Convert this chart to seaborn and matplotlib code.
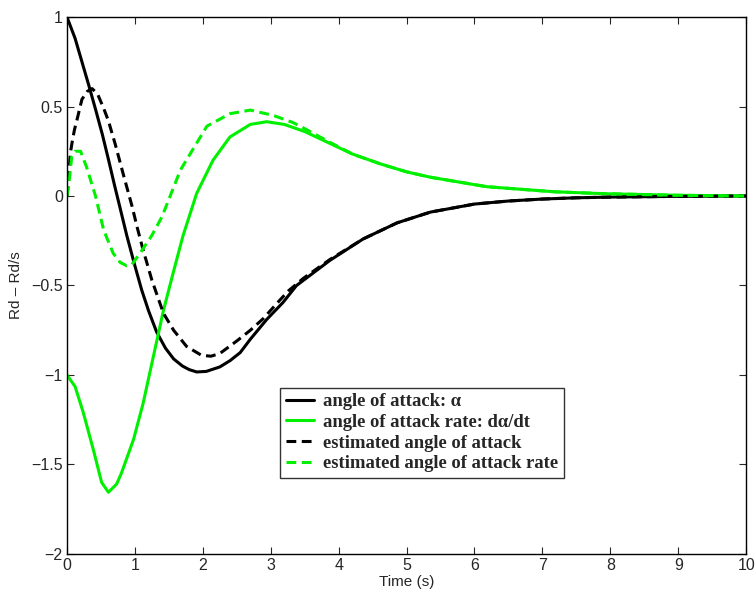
import matplotlib
matplotlib.use('Agg')
import matplotlib.pyplot as plt
import numpy as np
import pandas as pd
import seaborn as sns

sns.set_style('ticks')
plt.rcParams['font.family'] = ['Liberation Sans', 'DejaVu Sans']
plt.rcParams['xtick.direction'] = 'in'
plt.rcParams['ytick.direction'] = 'in'

# angle of attack (solid black)
t_alpha = [0, 0.12, 0.22, 0.32, 0.42, 0.52, 0.61, 0.7, 0.8, 0.88, 1.0, 1.1, 1.2,
           1.32, 1.45, 1.57, 1.7, 1.8, 1.91, 2.05, 2.25, 2.4, 2.55, 2.7, 2.94, 3.18,
           3.38, 3.87, 4.36, 4.86, 5.35, 6.0, 6.5, 7.0, 7.5, 8.0, 9.0, 10.0]
alpha = [1.0, 0.88, 0.75, 0.62, 0.485, 0.345, 0.205, 0.06, -0.095, -0.22, -0.39,
         -0.525, -0.64, -0.76, -0.85, -0.91, -0.95, -0.97, -0.983, -0.98, -0.955,
         -0.92, -0.875, -0.80, -0.69, -0.595, -0.50, -0.36, -0.24, -0.15, -0.09,
         -0.045, -0.028, -0.017, -0.010, -0.006, -0.002, 0.0]

# angle of attack rate (solid green)
t_rate = [0, 0.12, 0.24, 0.39, 0.51, 0.61, 0.73, 0.80, 0.98, 1.12, 1.27, 1.42, 1.57,
          1.71, 1.91, 2.15, 2.4, 2.7, 2.94, 3.2, 3.5, 3.87, 4.2, 4.61, 5.0, 5.35,
          6.18, 7.16, 7.9, 9.0, 10.0]
rate = [-1.0, -1.065, -1.21, -1.42, -1.60, -1.655, -1.61, -1.55, -1.36, -1.16, -0.90,
        -0.64, -0.42, -0.22, 0.015, 0.20, 0.33, 0.40, 0.415, 0.40, 0.36, 0.294, 0.235,
        0.18, 0.135, 0.105, 0.052, 0.024, 0.013, 0.004, 0.0]

# estimated angle of attack (dashed black)
t_est_alpha = [0, 0.03, 0.05, 0.08, 0.11, 0.15, 0.22, 0.3, 0.37, 0.45, 0.54, 0.61,
               0.71, 0.83, 0.96, 1.03, 1.12, 1.25, 1.42, 1.57, 1.76, 1.98, 2.12,
               2.25, 2.5, 2.7, 2.89, 3.09, 3.26, 3.48, 3.87, 4.36, 4.86, 5.35, 6.0,
               6.5, 7.0, 7.5, 8.0, 9.0, 10.0]
est_alpha = [0.0, 0.14, 0.24, 0.31, 0.37, 0.43, 0.54, 0.585, 0.60, 0.57, 0.49, 0.42,
             0.29, 0.12, -0.06, -0.17, -0.30, -0.47, -0.655, -0.75, -0.84, -0.89,
             -0.895, -0.88, -0.81, -0.75, -0.685, -0.60, -0.53, -0.46, -0.355,
             -0.24, -0.15, -0.09, -0.045, -0.028, -0.017, -0.010, -0.006, -0.002, 0.0]

# estimated angle of attack rate (dashed green)
t_est_rate = [0, 0.02, 0.07, 0.12, 0.2, 0.29, 0.42, 0.54, 0.68, 0.78, 0.88, 0.95,
              1.075, 1.25, 1.40, 1.67, 2.06, 2.4, 2.7, 3.04, 3.33, 3.58, 3.87,
              4.2, 4.61, 5.0, 5.35, 6.18, 7.16, 7.9, 9.0, 10.0]
est_rate = [0.0, 0.04, 0.22, 0.25, 0.25, 0.16, 0.0, -0.19, -0.32, -0.37, -0.39,
            -0.385, -0.32, -0.22, -0.115, 0.145, 0.39, 0.46, 0.48, 0.45, 0.41,
            0.36, 0.30, 0.235, 0.18, 0.135, 0.105, 0.052, 0.024, 0.013, 0.004, 0.0]

green = '#00f000'
series = [
    ('angle of attack: α', t_alpha, alpha, 'black', '-'),
    ('angle of attack rate: dα/dt', t_rate, rate, green, '-'),
    ('estimated angle of attack', t_est_alpha, est_alpha, 'black', '--'),
    ('estimated angle of attack rate', t_est_rate, est_rate, green, '--'),
]

fig = plt.figure(figsize=(7.56, 5.93), dpi=100)
ax = fig.add_axes([0.0886, 0.0658, 0.8984, 0.9055])

for label, t, y, color, ls in series:
    df = pd.DataFrame({'t': t, 'y': y})
    sns.lineplot(data=df, x='t', y='y', ax=ax, color=color, label=label,
                 linewidth=2.2, sort=False)
    if ls == '--':
        ax.get_lines()[-1].set_dashes([3.2, 1.8])

ax.set_xlim(0, 10)
ax.set_ylim(-2, 1)
ax.set_xticks(np.arange(0, 11, 1))
ax.set_yticks([-2, -1.5, -1, -0.5, 0, 0.5, 1])
ax.set_yticklabels(['\u22122', '\u22121.5', '\u22121', '\u22120.5', '0', '0.5', '1'])
ax.tick_params(axis='both', which='both', top=True, right=True, length=5,
               width=0.8, labelsize=11.5, pad=3)
for s in ax.spines.values():
    s.set_linewidth(1.0)
    s.set_color('black')

ax.set_xlabel('Time (s)', fontsize=11, labelpad=1)
ax.set_ylabel('Rd \u2013 Rd/s', fontsize=11, labelpad=6)

leg = ax.legend(loc='lower left', bbox_to_anchor=(0.314, 0.1415), borderaxespad=0,
                prop={'family': ['Liberation Serif', 'DejaVu Serif'], 'weight': 'bold',
                      'size': 13.4},
                frameon=True, fancybox=False, handlelength=1.5, handletextpad=0.5,
                labelspacing=0.2, borderpad=0.3, edgecolor='black')
leg.get_frame().set_linewidth(1.0)

plt.savefig('out.png', dpi=100)
